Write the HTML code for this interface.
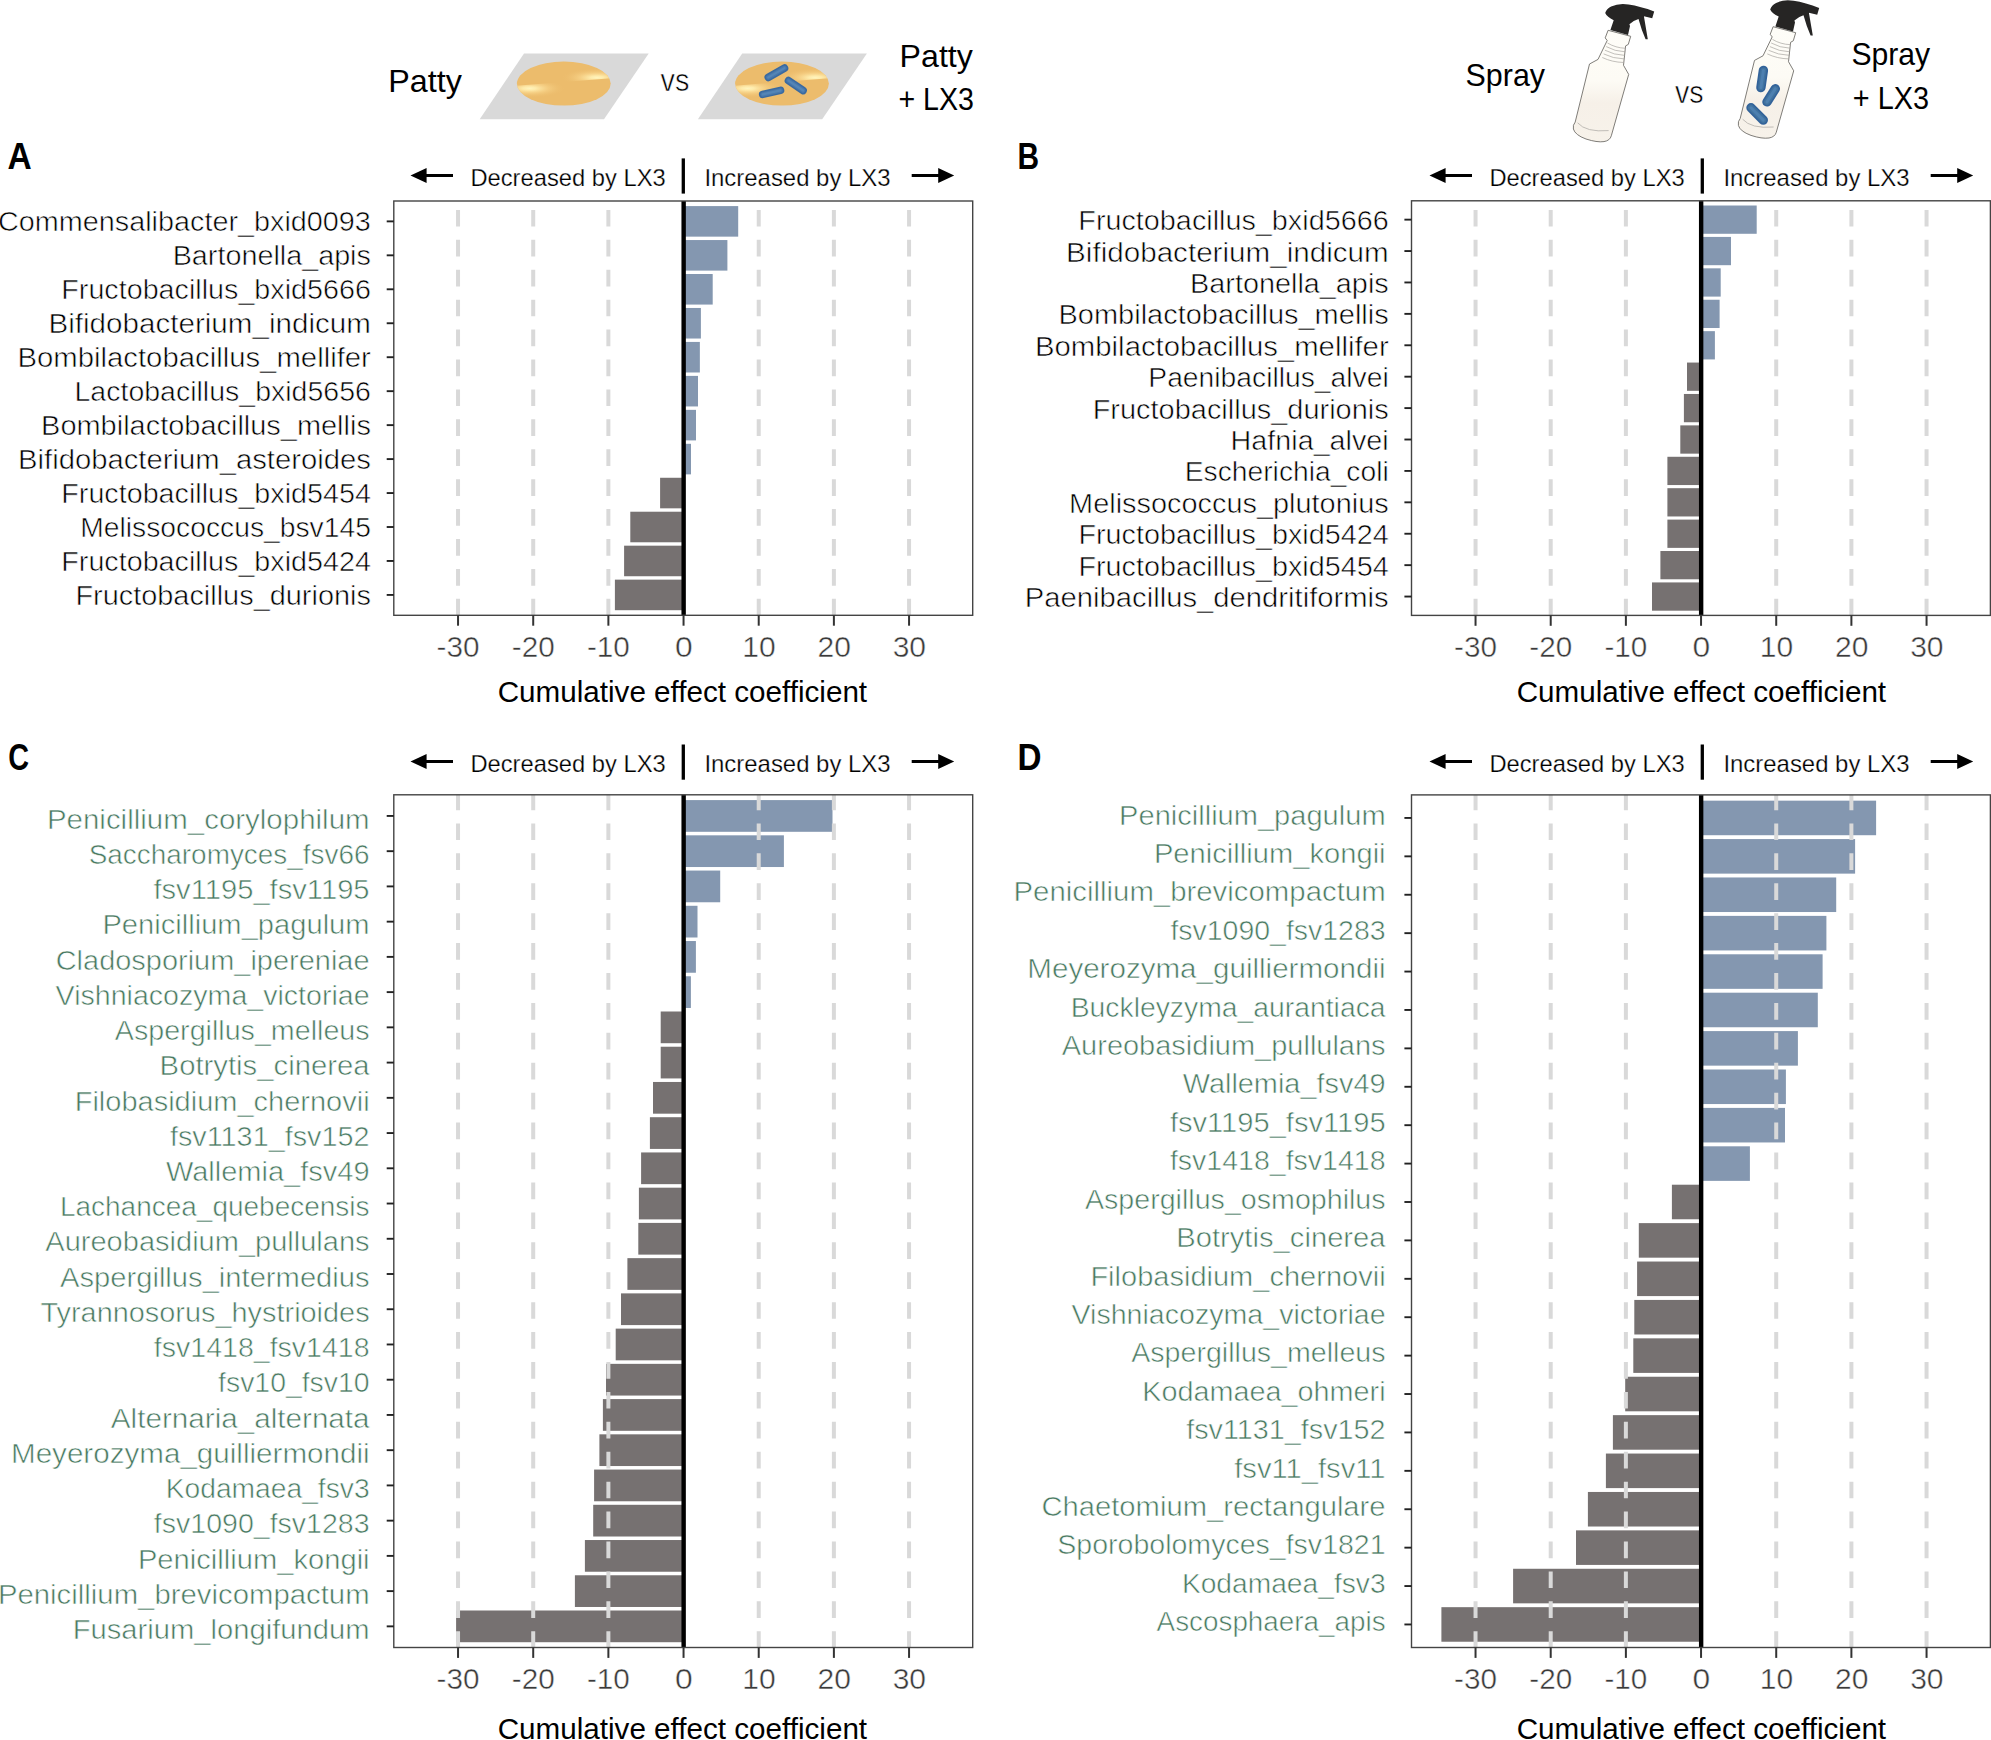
<!DOCTYPE html>
<html><head><meta charset="utf-8"><title>Figure</title>
<style>html,body{margin:0;padding:0;background:#fff;overflow:hidden}svg{display:block}</style></head>
<body>
<svg width="1991" height="1740" viewBox="0 0 1991 1740" font-family="'Liberation Sans', sans-serif">
<defs>
<radialGradient id="hl1" cx="0.5" cy="0.5" r="0.5"><stop offset="0" stop-color="#FFF4BE" stop-opacity="1"/><stop offset="0.18" stop-color="#FFEDAE" stop-opacity="0.95"/><stop offset="0.5" stop-color="#F8D48A" stop-opacity="0.7"/><stop offset="1" stop-color="#ECBC6C" stop-opacity="0"/></radialGradient>
<linearGradient id="bot" x1="0" y1="0" x2="0" y2="1"><stop offset="0" stop-color="#FEFDF8"/><stop offset="0.45" stop-color="#FDFBF5"/><stop offset="0.65" stop-color="#F6F0E8"/><stop offset="1" stop-color="#F7F2EA"/></linearGradient>
<linearGradient id="rod" x1="0" y1="0" x2="1" y2="1"><stop offset="0" stop-color="#5B8CC0"/><stop offset="1" stop-color="#2F5F96"/></linearGradient>
</defs>
<rect width="1991" height="1740" fill="#fff"/>
<g id="panelA">
<rect x="683.55" y="206.09" width="54.65" height="30.56" fill="#8497B0"/>
<rect x="683.55" y="240.05" width="43.85" height="30.56" fill="#8497B0"/>
<rect x="683.55" y="274.01" width="29.15" height="30.56" fill="#8497B0"/>
<rect x="683.55" y="307.97" width="17.35" height="30.56" fill="#8497B0"/>
<rect x="683.55" y="341.93" width="16.30" height="30.56" fill="#8497B0"/>
<rect x="683.55" y="375.89" width="14.45" height="30.56" fill="#8497B0"/>
<rect x="683.55" y="409.85" width="12.45" height="30.56" fill="#8497B0"/>
<rect x="683.55" y="443.81" width="7.45" height="30.56" fill="#8497B0"/>
<rect x="660.10" y="477.77" width="23.45" height="30.56" fill="#767171"/>
<rect x="630.30" y="511.72" width="53.25" height="30.56" fill="#767171"/>
<rect x="624.10" y="545.68" width="59.45" height="30.56" fill="#767171"/>
<rect x="614.90" y="579.64" width="68.65" height="30.56" fill="#767171"/>
<clipPath id="clipA"><rect x="393.8" y="201.0" width="578.90" height="414.30"/></clipPath>
<g clip-path="url(#clipA)" stroke="#D9D9D9" stroke-width="4" stroke-dasharray="16.7 13.22">
<line x1="458.04" x2="458.04" y1="209.90" y2="620.30"/>
<line x1="533.21" x2="533.21" y1="209.90" y2="620.30"/>
<line x1="608.38" x2="608.38" y1="209.90" y2="620.30"/>
<line x1="758.72" x2="758.72" y1="209.90" y2="620.30"/>
<line x1="833.89" x2="833.89" y1="209.90" y2="620.30"/>
<line x1="909.06" x2="909.06" y1="209.90" y2="620.30"/>
</g>
<line x1="683.65" x2="683.65" y1="201.00" y2="615.30" stroke="#000" stroke-width="4.4"/>
<rect x="393.8" y="201.0" width="578.90" height="414.30" fill="none" stroke="#444" stroke-width="1.4"/>
<g stroke="#222" stroke-width="1.9">
<line x1="386.70" x2="393.80" y1="221.38" y2="221.38"/>
<line x1="386.70" x2="393.80" y1="255.33" y2="255.33"/>
<line x1="386.70" x2="393.80" y1="289.29" y2="289.29"/>
<line x1="386.70" x2="393.80" y1="323.25" y2="323.25"/>
<line x1="386.70" x2="393.80" y1="357.21" y2="357.21"/>
<line x1="386.70" x2="393.80" y1="391.17" y2="391.17"/>
<line x1="386.70" x2="393.80" y1="425.13" y2="425.13"/>
<line x1="386.70" x2="393.80" y1="459.09" y2="459.09"/>
<line x1="386.70" x2="393.80" y1="493.05" y2="493.05"/>
<line x1="386.70" x2="393.80" y1="527.01" y2="527.01"/>
<line x1="386.70" x2="393.80" y1="560.97" y2="560.97"/>
<line x1="386.70" x2="393.80" y1="594.92" y2="594.92"/>
</g><g stroke="#333" stroke-width="2">
<line x1="458.04" x2="458.04" y1="615.30" y2="625.70"/>
<line x1="533.21" x2="533.21" y1="615.30" y2="625.70"/>
<line x1="608.38" x2="608.38" y1="615.30" y2="625.70"/>
<line x1="683.55" x2="683.55" y1="615.30" y2="625.70"/>
<line x1="758.72" x2="758.72" y1="615.30" y2="625.70"/>
<line x1="833.89" x2="833.89" y1="615.30" y2="625.70"/>
<line x1="909.06" x2="909.06" y1="615.30" y2="625.70"/>
</g>
<g font-size="28.4" fill="#000" lengthAdjust="spacingAndGlyphs" stroke="#fff" stroke-width="0.6">
<text x="-2.00" y="231.48" textLength="372.90" lengthAdjust="spacingAndGlyphs">Commensalibacter_bxid0093</text>
<text x="172.70" y="265.43" textLength="198.20" lengthAdjust="spacingAndGlyphs">Bartonella_apis</text>
<text x="61.30" y="299.39" textLength="309.60" lengthAdjust="spacingAndGlyphs">Fructobacillus_bxid5666</text>
<text x="48.50" y="333.35" textLength="322.40" lengthAdjust="spacingAndGlyphs">Bifidobacterium_indicum</text>
<text x="17.40" y="367.31" textLength="353.50" lengthAdjust="spacingAndGlyphs">Bombilactobacillus_mellifer</text>
<text x="74.50" y="401.27" textLength="296.40" lengthAdjust="spacingAndGlyphs">Lactobacillus_bxid5656</text>
<text x="41.10" y="435.23" textLength="329.80" lengthAdjust="spacingAndGlyphs">Bombilactobacillus_mellis</text>
<text x="18.00" y="469.19" textLength="352.90" lengthAdjust="spacingAndGlyphs">Bifidobacterium_asteroides</text>
<text x="61.30" y="503.15" textLength="309.60" lengthAdjust="spacingAndGlyphs">Fructobacillus_bxid5454</text>
<text x="80.30" y="537.11" textLength="290.60" lengthAdjust="spacingAndGlyphs">Melissococcus_bsv145</text>
<text x="61.30" y="571.07" textLength="309.60" lengthAdjust="spacingAndGlyphs">Fructobacillus_bxid5424</text>
<text x="75.40" y="605.02" textLength="295.50" lengthAdjust="spacingAndGlyphs">Fructobacillus_durionis</text>
</g>
<g font-size="29.8" fill="#3A3A3A" text-anchor="middle" stroke="#fff" stroke-width="0.45">
<text x="458.04" y="656.60" textLength="42.92" lengthAdjust="spacingAndGlyphs">-30</text>
<text x="533.21" y="656.60" textLength="42.92" lengthAdjust="spacingAndGlyphs">-20</text>
<text x="608.38" y="656.60" textLength="42.92" lengthAdjust="spacingAndGlyphs">-10</text>
<text x="683.85" y="656.60" textLength="17.71" lengthAdjust="spacingAndGlyphs">0</text>
<text x="759.02" y="656.60" textLength="33.42" lengthAdjust="spacingAndGlyphs">10</text>
<text x="834.19" y="656.60" textLength="33.42" lengthAdjust="spacingAndGlyphs">20</text>
<text x="909.36" y="656.60" textLength="33.42" lengthAdjust="spacingAndGlyphs">30</text>
</g>
<text x="497.70" y="702.30" font-size="29" textLength="369.4" lengthAdjust="spacingAndGlyphs">Cumulative effect coefficient</text>
<g transform="translate(0,0)">
<line x1="683.3" x2="683.3" y1="158.4" y2="193.6" stroke="#000" stroke-width="3.3"/>
<path d="M410.5 175.4 L426.6 167.9 L426.6 173.9 L453 173.9 L453 176.9 L426.6 176.9 L426.6 182.9 Z" fill="#000"/>
<path d="M954.2 175.4 L938.2 167.9 L938.2 173.9 L911.7 173.9 L911.7 176.9 L938.2 176.9 L938.2 182.9 Z" fill="#000"/>
<text x="470.4" y="186.0" font-size="24.5" textLength="195.3" lengthAdjust="spacingAndGlyphs" stroke="#fff" stroke-width="0.25">Decreased by LX3</text>
<text x="704.4" y="186.0" font-size="24.5" textLength="186.2" lengthAdjust="spacingAndGlyphs" stroke="#fff" stroke-width="0.25">Increased by LX3</text>
</g>
</g>
<g id="panelB">
<rect x="1701.05" y="205.51" width="55.65" height="28.27" fill="#8497B0"/>
<rect x="1701.05" y="236.92" width="29.95" height="28.27" fill="#8497B0"/>
<rect x="1701.05" y="268.33" width="19.65" height="28.27" fill="#8497B0"/>
<rect x="1701.05" y="299.74" width="18.55" height="28.27" fill="#8497B0"/>
<rect x="1701.05" y="331.15" width="13.85" height="28.27" fill="#8497B0"/>
<rect x="1687.00" y="362.56" width="14.05" height="28.27" fill="#767171"/>
<rect x="1683.90" y="393.97" width="17.15" height="28.27" fill="#767171"/>
<rect x="1680.30" y="425.38" width="20.75" height="28.27" fill="#767171"/>
<rect x="1667.40" y="456.78" width="33.65" height="28.27" fill="#767171"/>
<rect x="1667.40" y="488.19" width="33.65" height="28.27" fill="#767171"/>
<rect x="1667.40" y="519.60" width="33.65" height="28.27" fill="#767171"/>
<rect x="1660.40" y="551.01" width="40.65" height="28.27" fill="#767171"/>
<rect x="1652.00" y="582.42" width="49.05" height="28.27" fill="#767171"/>
<clipPath id="clipB"><rect x="1411.5" y="200.8" width="578.90" height="414.60"/></clipPath>
<g clip-path="url(#clipB)" stroke="#D9D9D9" stroke-width="4" stroke-dasharray="16.7 13.22">
<line x1="1475.54" x2="1475.54" y1="209.90" y2="620.40"/>
<line x1="1550.71" x2="1550.71" y1="209.90" y2="620.40"/>
<line x1="1625.88" x2="1625.88" y1="209.90" y2="620.40"/>
<line x1="1776.22" x2="1776.22" y1="209.90" y2="620.40"/>
<line x1="1851.39" x2="1851.39" y1="209.90" y2="620.40"/>
<line x1="1926.56" x2="1926.56" y1="209.90" y2="620.40"/>
</g>
<line x1="1701.15" x2="1701.15" y1="200.80" y2="615.40" stroke="#000" stroke-width="4.4"/>
<rect x="1411.5" y="200.8" width="578.90" height="414.60" fill="none" stroke="#444" stroke-width="1.4"/>
<g stroke="#222" stroke-width="1.9">
<line x1="1404.40" x2="1411.50" y1="219.65" y2="219.65"/>
<line x1="1404.40" x2="1411.50" y1="251.05" y2="251.05"/>
<line x1="1404.40" x2="1411.50" y1="282.46" y2="282.46"/>
<line x1="1404.40" x2="1411.50" y1="313.87" y2="313.87"/>
<line x1="1404.40" x2="1411.50" y1="345.28" y2="345.28"/>
<line x1="1404.40" x2="1411.50" y1="376.69" y2="376.69"/>
<line x1="1404.40" x2="1411.50" y1="408.10" y2="408.10"/>
<line x1="1404.40" x2="1411.50" y1="439.51" y2="439.51"/>
<line x1="1404.40" x2="1411.50" y1="470.92" y2="470.92"/>
<line x1="1404.40" x2="1411.50" y1="502.33" y2="502.33"/>
<line x1="1404.40" x2="1411.50" y1="533.74" y2="533.74"/>
<line x1="1404.40" x2="1411.50" y1="565.15" y2="565.15"/>
<line x1="1404.40" x2="1411.50" y1="596.55" y2="596.55"/>
</g><g stroke="#333" stroke-width="2">
<line x1="1475.54" x2="1475.54" y1="615.40" y2="625.80"/>
<line x1="1550.71" x2="1550.71" y1="615.40" y2="625.80"/>
<line x1="1625.88" x2="1625.88" y1="615.40" y2="625.80"/>
<line x1="1701.05" x2="1701.05" y1="615.40" y2="625.80"/>
<line x1="1776.22" x2="1776.22" y1="615.40" y2="625.80"/>
<line x1="1851.39" x2="1851.39" y1="615.40" y2="625.80"/>
<line x1="1926.56" x2="1926.56" y1="615.40" y2="625.80"/>
</g>
<g font-size="28.4" fill="#000" lengthAdjust="spacingAndGlyphs" stroke="#fff" stroke-width="0.6">
<text x="1078.30" y="230.15" textLength="310.40" lengthAdjust="spacingAndGlyphs">Fructobacillus_bxid5666</text>
<text x="1066.10" y="261.55" textLength="322.60" lengthAdjust="spacingAndGlyphs">Bifidobacterium_indicum</text>
<text x="1190.10" y="292.96" textLength="198.60" lengthAdjust="spacingAndGlyphs">Bartonella_apis</text>
<text x="1058.50" y="324.37" textLength="330.20" lengthAdjust="spacingAndGlyphs">Bombilactobacillus_mellis</text>
<text x="1035.00" y="355.78" textLength="353.70" lengthAdjust="spacingAndGlyphs">Bombilactobacillus_mellifer</text>
<text x="1148.30" y="387.19" textLength="240.40" lengthAdjust="spacingAndGlyphs">Paenibacillus_alvei</text>
<text x="1092.70" y="418.60" textLength="296.00" lengthAdjust="spacingAndGlyphs">Fructobacillus_durionis</text>
<text x="1230.60" y="450.01" textLength="158.10" lengthAdjust="spacingAndGlyphs">Hafnia_alvei</text>
<text x="1184.80" y="481.42" textLength="203.90" lengthAdjust="spacingAndGlyphs">Escherichia_coli</text>
<text x="1069.10" y="512.83" textLength="319.60" lengthAdjust="spacingAndGlyphs">Melissococcus_plutonius</text>
<text x="1078.40" y="544.24" textLength="310.30" lengthAdjust="spacingAndGlyphs">Fructobacillus_bxid5424</text>
<text x="1078.40" y="575.65" textLength="310.30" lengthAdjust="spacingAndGlyphs">Fructobacillus_bxid5454</text>
<text x="1024.80" y="607.05" textLength="363.90" lengthAdjust="spacingAndGlyphs">Paenibacillus_dendritiformis</text>
</g>
<g font-size="29.8" fill="#3A3A3A" text-anchor="middle" stroke="#fff" stroke-width="0.45">
<text x="1475.54" y="656.70" textLength="42.92" lengthAdjust="spacingAndGlyphs">-30</text>
<text x="1550.71" y="656.70" textLength="42.92" lengthAdjust="spacingAndGlyphs">-20</text>
<text x="1625.88" y="656.70" textLength="42.92" lengthAdjust="spacingAndGlyphs">-10</text>
<text x="1701.35" y="656.70" textLength="17.71" lengthAdjust="spacingAndGlyphs">0</text>
<text x="1776.52" y="656.70" textLength="33.42" lengthAdjust="spacingAndGlyphs">10</text>
<text x="1851.69" y="656.70" textLength="33.42" lengthAdjust="spacingAndGlyphs">20</text>
<text x="1926.86" y="656.70" textLength="33.42" lengthAdjust="spacingAndGlyphs">30</text>
</g>
<text x="1516.70" y="702.40" font-size="29" textLength="369.4" lengthAdjust="spacingAndGlyphs">Cumulative effect coefficient</text>
<g transform="translate(1019,0)">
<line x1="683.3" x2="683.3" y1="158.4" y2="193.6" stroke="#000" stroke-width="3.3"/>
<path d="M410.5 175.4 L426.6 167.9 L426.6 173.9 L453 173.9 L453 176.9 L426.6 176.9 L426.6 182.9 Z" fill="#000"/>
<path d="M954.2 175.4 L938.2 167.9 L938.2 173.9 L911.7 173.9 L911.7 176.9 L938.2 176.9 L938.2 182.9 Z" fill="#000"/>
<text x="470.4" y="186.0" font-size="24.5" textLength="195.3" lengthAdjust="spacingAndGlyphs" stroke="#fff" stroke-width="0.25">Decreased by LX3</text>
<text x="704.4" y="186.0" font-size="24.5" textLength="186.2" lengthAdjust="spacingAndGlyphs" stroke="#fff" stroke-width="0.25">Increased by LX3</text>
</g>
</g>
<g id="panelC">
<rect x="683.55" y="800.09" width="148.95" height="31.71" fill="#8497B0"/>
<rect x="683.55" y="835.32" width="100.35" height="31.71" fill="#8497B0"/>
<rect x="683.55" y="870.56" width="36.65" height="31.71" fill="#8497B0"/>
<rect x="683.55" y="905.79" width="13.95" height="31.71" fill="#8497B0"/>
<rect x="683.55" y="941.03" width="12.35" height="31.71" fill="#8497B0"/>
<rect x="683.55" y="976.26" width="7.35" height="31.71" fill="#8497B0"/>
<rect x="660.70" y="1011.50" width="22.85" height="31.71" fill="#767171"/>
<rect x="660.70" y="1046.73" width="22.85" height="31.71" fill="#767171"/>
<rect x="653.00" y="1081.97" width="30.55" height="31.71" fill="#767171"/>
<rect x="649.90" y="1117.21" width="33.65" height="31.71" fill="#767171"/>
<rect x="641.10" y="1152.44" width="42.45" height="31.71" fill="#767171"/>
<rect x="638.90" y="1187.68" width="44.65" height="31.71" fill="#767171"/>
<rect x="638.30" y="1222.91" width="45.25" height="31.71" fill="#767171"/>
<rect x="627.40" y="1258.15" width="56.15" height="31.71" fill="#767171"/>
<rect x="621.00" y="1293.38" width="62.55" height="31.71" fill="#767171"/>
<rect x="615.70" y="1328.62" width="67.85" height="31.71" fill="#767171"/>
<rect x="606.00" y="1363.85" width="77.55" height="31.71" fill="#767171"/>
<rect x="602.90" y="1399.09" width="80.65" height="31.71" fill="#767171"/>
<rect x="599.40" y="1434.33" width="84.15" height="31.71" fill="#767171"/>
<rect x="594.10" y="1469.56" width="89.45" height="31.71" fill="#767171"/>
<rect x="593.20" y="1504.80" width="90.35" height="31.71" fill="#767171"/>
<rect x="584.90" y="1540.03" width="98.65" height="31.71" fill="#767171"/>
<rect x="574.90" y="1575.27" width="108.65" height="31.71" fill="#767171"/>
<rect x="456.10" y="1610.50" width="227.45" height="31.71" fill="#767171"/>
<clipPath id="clipC"><rect x="393.8" y="794.8" width="578.90" height="852.70"/></clipPath>
<g clip-path="url(#clipC)" stroke="#D9D9D9" stroke-width="4" stroke-dasharray="16.7 13.22">
<line x1="458.04" x2="458.04" y1="793.50" y2="1652.50"/>
<line x1="533.21" x2="533.21" y1="793.50" y2="1652.50"/>
<line x1="608.38" x2="608.38" y1="793.50" y2="1652.50"/>
<line x1="758.72" x2="758.72" y1="793.50" y2="1652.50"/>
<line x1="833.89" x2="833.89" y1="793.50" y2="1652.50"/>
<line x1="909.06" x2="909.06" y1="793.50" y2="1652.50"/>
</g>
<line x1="683.65" x2="683.65" y1="794.80" y2="1647.50" stroke="#000" stroke-width="4.4"/>
<rect x="393.8" y="794.8" width="578.90" height="852.70" fill="none" stroke="#444" stroke-width="1.4"/>
<g stroke="#222" stroke-width="1.9">
<line x1="386.70" x2="393.80" y1="815.94" y2="815.94"/>
<line x1="386.70" x2="393.80" y1="851.18" y2="851.18"/>
<line x1="386.70" x2="393.80" y1="886.41" y2="886.41"/>
<line x1="386.70" x2="393.80" y1="921.65" y2="921.65"/>
<line x1="386.70" x2="393.80" y1="956.88" y2="956.88"/>
<line x1="386.70" x2="393.80" y1="992.12" y2="992.12"/>
<line x1="386.70" x2="393.80" y1="1027.35" y2="1027.35"/>
<line x1="386.70" x2="393.80" y1="1062.59" y2="1062.59"/>
<line x1="386.70" x2="393.80" y1="1097.83" y2="1097.83"/>
<line x1="386.70" x2="393.80" y1="1133.06" y2="1133.06"/>
<line x1="386.70" x2="393.80" y1="1168.30" y2="1168.30"/>
<line x1="386.70" x2="393.80" y1="1203.53" y2="1203.53"/>
<line x1="386.70" x2="393.80" y1="1238.77" y2="1238.77"/>
<line x1="386.70" x2="393.80" y1="1274.00" y2="1274.00"/>
<line x1="386.70" x2="393.80" y1="1309.24" y2="1309.24"/>
<line x1="386.70" x2="393.80" y1="1344.47" y2="1344.47"/>
<line x1="386.70" x2="393.80" y1="1379.71" y2="1379.71"/>
<line x1="386.70" x2="393.80" y1="1414.95" y2="1414.95"/>
<line x1="386.70" x2="393.80" y1="1450.18" y2="1450.18"/>
<line x1="386.70" x2="393.80" y1="1485.42" y2="1485.42"/>
<line x1="386.70" x2="393.80" y1="1520.65" y2="1520.65"/>
<line x1="386.70" x2="393.80" y1="1555.89" y2="1555.89"/>
<line x1="386.70" x2="393.80" y1="1591.12" y2="1591.12"/>
<line x1="386.70" x2="393.80" y1="1626.36" y2="1626.36"/>
</g><g stroke="#333" stroke-width="2">
<line x1="458.04" x2="458.04" y1="1647.50" y2="1657.90"/>
<line x1="533.21" x2="533.21" y1="1647.50" y2="1657.90"/>
<line x1="608.38" x2="608.38" y1="1647.50" y2="1657.90"/>
<line x1="683.55" x2="683.55" y1="1647.50" y2="1657.90"/>
<line x1="758.72" x2="758.72" y1="1647.50" y2="1657.90"/>
<line x1="833.89" x2="833.89" y1="1647.50" y2="1657.90"/>
<line x1="909.06" x2="909.06" y1="1647.50" y2="1657.90"/>
</g>
<g font-size="28.4" fill="#4A7A62" lengthAdjust="spacingAndGlyphs" stroke="#fff" stroke-width="0.6">
<text x="46.90" y="828.64" textLength="322.70" lengthAdjust="spacingAndGlyphs">Penicillium_corylophilum</text>
<text x="88.70" y="863.88" textLength="280.90" lengthAdjust="spacingAndGlyphs">Saccharomyces_fsv66</text>
<text x="153.40" y="899.11" textLength="216.20" lengthAdjust="spacingAndGlyphs">fsv1195_fsv1195</text>
<text x="102.40" y="934.35" textLength="267.20" lengthAdjust="spacingAndGlyphs">Penicillium_pagulum</text>
<text x="55.70" y="969.58" textLength="313.90" lengthAdjust="spacingAndGlyphs">Cladosporium_ipereniae</text>
<text x="55.60" y="1004.82" textLength="314.00" lengthAdjust="spacingAndGlyphs">Vishniacozyma_victoriae</text>
<text x="114.80" y="1040.05" textLength="254.80" lengthAdjust="spacingAndGlyphs">Aspergillus_melleus</text>
<text x="159.60" y="1075.29" textLength="210.00" lengthAdjust="spacingAndGlyphs">Botrytis_cinerea</text>
<text x="74.70" y="1110.53" textLength="294.90" lengthAdjust="spacingAndGlyphs">Filobasidium_chernovii</text>
<text x="169.90" y="1145.76" textLength="199.70" lengthAdjust="spacingAndGlyphs">fsv1131_fsv152</text>
<text x="165.90" y="1181.00" textLength="203.70" lengthAdjust="spacingAndGlyphs">Wallemia_fsv49</text>
<text x="59.90" y="1216.23" textLength="309.70" lengthAdjust="spacingAndGlyphs">Lachancea_quebecensis</text>
<text x="45.30" y="1251.47" textLength="324.30" lengthAdjust="spacingAndGlyphs">Aureobasidium_pullulans</text>
<text x="60.00" y="1286.70" textLength="309.60" lengthAdjust="spacingAndGlyphs">Aspergillus_intermedius</text>
<text x="40.50" y="1321.94" textLength="329.10" lengthAdjust="spacingAndGlyphs">Tyrannosorus_hystrioides</text>
<text x="153.80" y="1357.17" textLength="215.80" lengthAdjust="spacingAndGlyphs">fsv1418_fsv1418</text>
<text x="218.10" y="1392.41" textLength="151.50" lengthAdjust="spacingAndGlyphs">fsv10_fsv10</text>
<text x="110.80" y="1427.65" textLength="258.80" lengthAdjust="spacingAndGlyphs">Alternaria_alternata</text>
<text x="11.00" y="1462.88" textLength="358.60" lengthAdjust="spacingAndGlyphs">Meyerozyma_guilliermondii</text>
<text x="165.70" y="1498.12" textLength="203.90" lengthAdjust="spacingAndGlyphs">Kodamaea_fsv3</text>
<text x="153.80" y="1533.35" textLength="215.80" lengthAdjust="spacingAndGlyphs">fsv1090_fsv1283</text>
<text x="137.90" y="1568.59" textLength="231.70" lengthAdjust="spacingAndGlyphs">Penicillium_kongii</text>
<text x="-2.10" y="1603.82" textLength="371.70" lengthAdjust="spacingAndGlyphs">Penicillium_brevicompactum</text>
<text x="72.70" y="1639.06" textLength="296.90" lengthAdjust="spacingAndGlyphs">Fusarium_longifundum</text>
</g>
<g font-size="29.8" fill="#3A3A3A" text-anchor="middle" stroke="#fff" stroke-width="0.45">
<text x="458.04" y="1688.80" textLength="42.92" lengthAdjust="spacingAndGlyphs">-30</text>
<text x="533.21" y="1688.80" textLength="42.92" lengthAdjust="spacingAndGlyphs">-20</text>
<text x="608.38" y="1688.80" textLength="42.92" lengthAdjust="spacingAndGlyphs">-10</text>
<text x="683.85" y="1688.80" textLength="17.71" lengthAdjust="spacingAndGlyphs">0</text>
<text x="759.02" y="1688.80" textLength="33.42" lengthAdjust="spacingAndGlyphs">10</text>
<text x="834.19" y="1688.80" textLength="33.42" lengthAdjust="spacingAndGlyphs">20</text>
<text x="909.36" y="1688.80" textLength="33.42" lengthAdjust="spacingAndGlyphs">30</text>
</g>
<text x="497.70" y="1738.80" font-size="29" textLength="369.4" lengthAdjust="spacingAndGlyphs">Cumulative effect coefficient</text>
<g transform="translate(0,586.1)">
<line x1="683.3" x2="683.3" y1="158.4" y2="193.6" stroke="#000" stroke-width="3.3"/>
<path d="M410.5 175.4 L426.6 167.9 L426.6 173.9 L453 173.9 L453 176.9 L426.6 176.9 L426.6 182.9 Z" fill="#000"/>
<path d="M954.2 175.4 L938.2 167.9 L938.2 173.9 L911.7 173.9 L911.7 176.9 L938.2 176.9 L938.2 182.9 Z" fill="#000"/>
<text x="470.4" y="186.0" font-size="24.5" textLength="195.3" lengthAdjust="spacingAndGlyphs" stroke="#fff" stroke-width="0.25">Decreased by LX3</text>
<text x="704.4" y="186.0" font-size="24.5" textLength="186.2" lengthAdjust="spacingAndGlyphs" stroke="#fff" stroke-width="0.25">Increased by LX3</text>
</g>
</g>
<g id="panelD">
<rect x="1701.05" y="800.66" width="175.05" height="34.56" fill="#8497B0"/>
<rect x="1701.05" y="839.07" width="154.05" height="34.56" fill="#8497B0"/>
<rect x="1701.05" y="877.47" width="135.15" height="34.56" fill="#8497B0"/>
<rect x="1701.05" y="915.88" width="125.35" height="34.56" fill="#8497B0"/>
<rect x="1701.05" y="954.28" width="121.55" height="34.56" fill="#8497B0"/>
<rect x="1701.05" y="992.69" width="116.75" height="34.56" fill="#8497B0"/>
<rect x="1701.05" y="1031.09" width="96.85" height="34.56" fill="#8497B0"/>
<rect x="1701.05" y="1069.50" width="84.85" height="34.56" fill="#8497B0"/>
<rect x="1701.05" y="1107.90" width="83.95" height="34.56" fill="#8497B0"/>
<rect x="1701.05" y="1146.31" width="48.85" height="34.56" fill="#8497B0"/>
<rect x="1671.90" y="1184.71" width="29.15" height="34.56" fill="#767171"/>
<rect x="1638.80" y="1223.12" width="62.25" height="34.56" fill="#767171"/>
<rect x="1637.10" y="1261.53" width="63.95" height="34.56" fill="#767171"/>
<rect x="1634.30" y="1299.93" width="66.75" height="34.56" fill="#767171"/>
<rect x="1633.30" y="1338.34" width="67.75" height="34.56" fill="#767171"/>
<rect x="1625.20" y="1376.74" width="75.85" height="34.56" fill="#767171"/>
<rect x="1612.90" y="1415.15" width="88.15" height="34.56" fill="#767171"/>
<rect x="1605.90" y="1453.55" width="95.15" height="34.56" fill="#767171"/>
<rect x="1587.90" y="1491.96" width="113.15" height="34.56" fill="#767171"/>
<rect x="1576.00" y="1530.36" width="125.05" height="34.56" fill="#767171"/>
<rect x="1513.10" y="1568.77" width="187.95" height="34.56" fill="#767171"/>
<rect x="1441.40" y="1607.17" width="259.65" height="34.56" fill="#767171"/>
<clipPath id="clipD"><rect x="1411.5" y="794.9" width="578.90" height="852.60"/></clipPath>
<g clip-path="url(#clipD)" stroke="#D9D9D9" stroke-width="4" stroke-dasharray="16.7 13.22">
<line x1="1475.54" x2="1475.54" y1="793.50" y2="1652.50"/>
<line x1="1550.71" x2="1550.71" y1="793.50" y2="1652.50"/>
<line x1="1625.88" x2="1625.88" y1="793.50" y2="1652.50"/>
<line x1="1776.22" x2="1776.22" y1="793.50" y2="1652.50"/>
<line x1="1851.39" x2="1851.39" y1="793.50" y2="1652.50"/>
<line x1="1926.56" x2="1926.56" y1="793.50" y2="1652.50"/>
</g>
<line x1="1701.15" x2="1701.15" y1="794.90" y2="1647.50" stroke="#000" stroke-width="4.4"/>
<rect x="1411.5" y="794.9" width="578.90" height="852.60" fill="none" stroke="#444" stroke-width="1.4"/>
<g stroke="#222" stroke-width="1.9">
<line x1="1404.40" x2="1411.50" y1="817.94" y2="817.94"/>
<line x1="1404.40" x2="1411.50" y1="856.35" y2="856.35"/>
<line x1="1404.40" x2="1411.50" y1="894.75" y2="894.75"/>
<line x1="1404.40" x2="1411.50" y1="933.16" y2="933.16"/>
<line x1="1404.40" x2="1411.50" y1="971.56" y2="971.56"/>
<line x1="1404.40" x2="1411.50" y1="1009.97" y2="1009.97"/>
<line x1="1404.40" x2="1411.50" y1="1048.38" y2="1048.38"/>
<line x1="1404.40" x2="1411.50" y1="1086.78" y2="1086.78"/>
<line x1="1404.40" x2="1411.50" y1="1125.19" y2="1125.19"/>
<line x1="1404.40" x2="1411.50" y1="1163.59" y2="1163.59"/>
<line x1="1404.40" x2="1411.50" y1="1202.00" y2="1202.00"/>
<line x1="1404.40" x2="1411.50" y1="1240.40" y2="1240.40"/>
<line x1="1404.40" x2="1411.50" y1="1278.81" y2="1278.81"/>
<line x1="1404.40" x2="1411.50" y1="1317.21" y2="1317.21"/>
<line x1="1404.40" x2="1411.50" y1="1355.62" y2="1355.62"/>
<line x1="1404.40" x2="1411.50" y1="1394.02" y2="1394.02"/>
<line x1="1404.40" x2="1411.50" y1="1432.43" y2="1432.43"/>
<line x1="1404.40" x2="1411.50" y1="1470.84" y2="1470.84"/>
<line x1="1404.40" x2="1411.50" y1="1509.24" y2="1509.24"/>
<line x1="1404.40" x2="1411.50" y1="1547.65" y2="1547.65"/>
<line x1="1404.40" x2="1411.50" y1="1586.05" y2="1586.05"/>
<line x1="1404.40" x2="1411.50" y1="1624.46" y2="1624.46"/>
</g><g stroke="#333" stroke-width="2">
<line x1="1475.54" x2="1475.54" y1="1647.50" y2="1657.90"/>
<line x1="1550.71" x2="1550.71" y1="1647.50" y2="1657.90"/>
<line x1="1625.88" x2="1625.88" y1="1647.50" y2="1657.90"/>
<line x1="1701.05" x2="1701.05" y1="1647.50" y2="1657.90"/>
<line x1="1776.22" x2="1776.22" y1="1647.50" y2="1657.90"/>
<line x1="1851.39" x2="1851.39" y1="1647.50" y2="1657.90"/>
<line x1="1926.56" x2="1926.56" y1="1647.50" y2="1657.90"/>
</g>
<g font-size="28.4" fill="#4A7A62" lengthAdjust="spacingAndGlyphs" stroke="#fff" stroke-width="0.6">
<text x="1119.10" y="824.64" textLength="266.50" lengthAdjust="spacingAndGlyphs">Penicillium_pagulum</text>
<text x="1153.90" y="863.05" textLength="231.70" lengthAdjust="spacingAndGlyphs">Penicillium_kongii</text>
<text x="1013.50" y="901.45" textLength="372.10" lengthAdjust="spacingAndGlyphs">Penicillium_brevicompactum</text>
<text x="1170.40" y="939.86" textLength="215.20" lengthAdjust="spacingAndGlyphs">fsv1090_fsv1283</text>
<text x="1027.30" y="978.26" textLength="358.30" lengthAdjust="spacingAndGlyphs">Meyerozyma_guilliermondii</text>
<text x="1070.70" y="1016.67" textLength="314.90" lengthAdjust="spacingAndGlyphs">Buckleyzyma_aurantiaca</text>
<text x="1061.80" y="1055.08" textLength="323.80" lengthAdjust="spacingAndGlyphs">Aureobasidium_pullulans</text>
<text x="1182.70" y="1093.48" textLength="202.90" lengthAdjust="spacingAndGlyphs">Wallemia_fsv49</text>
<text x="1169.90" y="1131.89" textLength="215.70" lengthAdjust="spacingAndGlyphs">fsv1195_fsv1195</text>
<text x="1169.90" y="1170.29" textLength="215.70" lengthAdjust="spacingAndGlyphs">fsv1418_fsv1418</text>
<text x="1084.90" y="1208.70" textLength="300.70" lengthAdjust="spacingAndGlyphs">Aspergillus_osmophilus</text>
<text x="1176.20" y="1247.10" textLength="209.40" lengthAdjust="spacingAndGlyphs">Botrytis_cinerea</text>
<text x="1090.40" y="1285.51" textLength="295.20" lengthAdjust="spacingAndGlyphs">Filobasidium_chernovii</text>
<text x="1071.50" y="1323.91" textLength="314.10" lengthAdjust="spacingAndGlyphs">Vishniacozyma_victoriae</text>
<text x="1131.20" y="1362.32" textLength="254.40" lengthAdjust="spacingAndGlyphs">Aspergillus_melleus</text>
<text x="1142.20" y="1400.72" textLength="243.40" lengthAdjust="spacingAndGlyphs">Kodamaea_ohmeri</text>
<text x="1186.20" y="1439.13" textLength="199.40" lengthAdjust="spacingAndGlyphs">fsv1131_fsv152</text>
<text x="1234.20" y="1477.54" textLength="151.40" lengthAdjust="spacingAndGlyphs">fsv11_fsv11</text>
<text x="1041.40" y="1515.94" textLength="344.20" lengthAdjust="spacingAndGlyphs">Chaetomium_rectangulare</text>
<text x="1057.30" y="1554.35" textLength="328.30" lengthAdjust="spacingAndGlyphs">Sporobolomyces_fsv1821</text>
<text x="1181.90" y="1592.75" textLength="203.70" lengthAdjust="spacingAndGlyphs">Kodamaea_fsv3</text>
<text x="1156.60" y="1631.16" textLength="229.00" lengthAdjust="spacingAndGlyphs">Ascosphaera_apis</text>
</g>
<g font-size="29.8" fill="#3A3A3A" text-anchor="middle" stroke="#fff" stroke-width="0.45">
<text x="1475.54" y="1688.80" textLength="42.92" lengthAdjust="spacingAndGlyphs">-30</text>
<text x="1550.71" y="1688.80" textLength="42.92" lengthAdjust="spacingAndGlyphs">-20</text>
<text x="1625.88" y="1688.80" textLength="42.92" lengthAdjust="spacingAndGlyphs">-10</text>
<text x="1701.35" y="1688.80" textLength="17.71" lengthAdjust="spacingAndGlyphs">0</text>
<text x="1776.52" y="1688.80" textLength="33.42" lengthAdjust="spacingAndGlyphs">10</text>
<text x="1851.69" y="1688.80" textLength="33.42" lengthAdjust="spacingAndGlyphs">20</text>
<text x="1926.86" y="1688.80" textLength="33.42" lengthAdjust="spacingAndGlyphs">30</text>
</g>
<text x="1516.70" y="1738.80" font-size="29" textLength="369.4" lengthAdjust="spacingAndGlyphs">Cumulative effect coefficient</text>
<g transform="translate(1019,586.1)">
<line x1="683.3" x2="683.3" y1="158.4" y2="193.6" stroke="#000" stroke-width="3.3"/>
<path d="M410.5 175.4 L426.6 167.9 L426.6 173.9 L453 173.9 L453 176.9 L426.6 176.9 L426.6 182.9 Z" fill="#000"/>
<path d="M954.2 175.4 L938.2 167.9 L938.2 173.9 L911.7 173.9 L911.7 176.9 L938.2 176.9 L938.2 182.9 Z" fill="#000"/>
<text x="470.4" y="186.0" font-size="24.5" textLength="195.3" lengthAdjust="spacingAndGlyphs" stroke="#fff" stroke-width="0.25">Decreased by LX3</text>
<text x="704.4" y="186.0" font-size="24.5" textLength="186.2" lengthAdjust="spacingAndGlyphs" stroke="#fff" stroke-width="0.25">Increased by LX3</text>
</g>
</g>
<text x="7.6" y="168.7" font-size="36.2" font-weight="bold" textLength="24.2" lengthAdjust="spacingAndGlyphs">A</text>
<text x="1017.6" y="168.8" font-size="36.2" font-weight="bold" textLength="21.6" lengthAdjust="spacingAndGlyphs">B</text>
<text x="8.2" y="770.3" font-size="36.2" font-weight="bold" textLength="20.8" lengthAdjust="spacingAndGlyphs">C</text>
<text x="1017.6" y="770.2" font-size="36.2" font-weight="bold" textLength="24.0" lengthAdjust="spacingAndGlyphs">D</text>
<g transform="translate(0,0)">
<path d="M524 53.4 L648.7 53.4 L604 119.3 L479.7 119.3 Z" fill="#D9D9D9"/>
<ellipse cx="563.8" cy="83.6" rx="46.9" ry="22" fill="#ECBC6C"/>
<clipPath id="pc0"><ellipse cx="563.8" cy="83.6" rx="46.9" ry="22"/></clipPath>
<clipPath id="pa0"><path d="M500 87.06 L630 76.6 L630 40 L500 40 Z"/></clipPath>
<clipPath id="pb0"><path d="M500 87.06 L630 76.6 L630 130 L500 130 Z"/></clipPath>
<g clip-path="url(#pc0)">
<g clip-path="url(#pa0)"><ellipse cx="597" cy="77.6" rx="36" ry="9.5" fill="url(#hl1)"/></g>
<g clip-path="url(#pb0)"><ellipse cx="529.5" cy="88.4" rx="36" ry="9.5" fill="url(#hl1)"/></g>
</g>
</g>
<g transform="translate(218.2,0)">
<path d="M524 53.4 L648.7 53.4 L604 119.3 L479.7 119.3 Z" fill="#D9D9D9"/>
<ellipse cx="563.8" cy="83.6" rx="46.9" ry="22" fill="#ECBC6C"/>
<clipPath id="pc218"><ellipse cx="563.8" cy="83.6" rx="46.9" ry="22"/></clipPath>
<clipPath id="pa218"><path d="M500 87.06 L630 76.6 L630 40 L500 40 Z"/></clipPath>
<clipPath id="pb218"><path d="M500 87.06 L630 76.6 L630 130 L500 130 Z"/></clipPath>
<g clip-path="url(#pc218)">
<g clip-path="url(#pa218)"><ellipse cx="597" cy="77.6" rx="36" ry="9.5" fill="url(#hl1)"/></g>
<g clip-path="url(#pb218)"><ellipse cx="529.5" cy="88.4" rx="36" ry="9.5" fill="url(#hl1)"/></g>
</g>
<g stroke="#3A6AA0" stroke-width="7.6" stroke-linecap="round">
<line x1="550.1" y1="77.4" x2="566.3" y2="68.1"/>
<line x1="570.3" y1="80.6" x2="584.9" y2="90.5"/>
<line x1="544.5" y1="94.4" x2="562.3" y2="90.4"/>
</g>
<g stroke="#4878AC" stroke-width="4.6" stroke-linecap="round">
<line x1="550.1" y1="77.4" x2="566.3" y2="68.1"/>
<line x1="570.3" y1="80.6" x2="584.9" y2="90.5"/>
<line x1="544.5" y1="94.4" x2="562.3" y2="90.4"/>
</g>
<g stroke="#5485B6" stroke-width="2.2" stroke-linecap="round">
<line x1="550.1" y1="77.4" x2="566.3" y2="68.1"/>
<line x1="570.3" y1="80.6" x2="584.9" y2="90.5"/>
<line x1="544.5" y1="94.4" x2="562.3" y2="90.4"/>
</g>
</g>
<text x="388.20" y="91.70" font-size="31.5" textLength="73.60" lengthAdjust="spacingAndGlyphs">Patty</text>
<text x="660.50" y="90.70" font-size="31" textLength="28.80" lengthAdjust="spacingAndGlyphs" stroke="#fff" stroke-width="0.6">vs</text>
<text x="899.60" y="67.30" font-size="31.5" textLength="73.20" lengthAdjust="spacingAndGlyphs">Patty</text>
<text x="898.40" y="109.90" font-size="31.5" textLength="75.50" lengthAdjust="spacingAndGlyphs">+ LX3</text>
<g transform="translate(0,0)">
<path d="M1608.1 30.3 L1630.7 36.3 L1628.3 44.4 L1625.6 45.9 L1623.5 65.3 L1628.7 74.4 L1611.3 135.8 Q1610 140.6 1604 141.6 Q1597 142.6 1586 139 Q1575 135 1573.4 129 Q1572.6 125 1575.2 122.1 L1589.5 64 L1598 59.4 L1607.2 40.5 L1605.2 37.9 Z" fill="url(#bot)" stroke="#716E6A" stroke-width="0.9" stroke-linejoin="round"/>
<g fill="none" stroke="#A8A5A0" stroke-width="0.7">
<path d="M1607.5 43.0 Q1615.5 47.9 1625.6 48.3"/>
<path d="M1606.2 46.6 Q1614.7 51.4 1625.1 51.8"/>
<path d="M1604.9 50.2 Q1613.8 55.0 1624.7 55.4"/>
<path d="M1603.6 53.9 Q1612.9 58.6 1624.2 58.9"/>
<path d="M1602.3 57.5 Q1612.0 62.2 1623.8 62.5"/>
<path d="M1577.6 122.8 Q1586 132.5 1608.6 130.6"/>
</g>
<path d="M1610.4 30 L1613.7 20.2 Q1607 17 1605.2 13.1 Q1606.5 8.5 1611.1 6.5 Q1616.5 4 1622.8 3.9 Q1634 4.5 1647.6 9.1 L1654.2 11.5 L1652.2 18.3 L1643.9 16.3 L1647.8 39.2 L1645.6 39.2 Q1641.5 30 1638.5 18.9 Q1633 20.5 1629.4 24.2 L1630 26.1 L1628 35 Z" fill="#262524"/>
</g>
<g transform="translate(165,-3.6)">
<path d="M1608.1 30.3 L1630.7 36.3 L1628.3 44.4 L1625.6 45.9 L1623.5 65.3 L1628.7 74.4 L1611.3 135.8 Q1610 140.6 1604 141.6 Q1597 142.6 1586 139 Q1575 135 1573.4 129 Q1572.6 125 1575.2 122.1 L1589.5 64 L1598 59.4 L1607.2 40.5 L1605.2 37.9 Z" fill="url(#bot)" stroke="#716E6A" stroke-width="0.9" stroke-linejoin="round"/>
<g fill="none" stroke="#A8A5A0" stroke-width="0.7">
<path d="M1607.5 43.0 Q1615.5 47.9 1625.6 48.3"/>
<path d="M1606.2 46.6 Q1614.7 51.4 1625.1 51.8"/>
<path d="M1604.9 50.2 Q1613.8 55.0 1624.7 55.4"/>
<path d="M1603.6 53.9 Q1612.9 58.6 1624.2 58.9"/>
<path d="M1602.3 57.5 Q1612.0 62.2 1623.8 62.5"/>
<path d="M1577.6 122.8 Q1586 132.5 1608.6 130.6"/>
</g>
<path d="M1610.4 30 L1613.7 20.2 Q1607 17 1605.2 13.1 Q1606.5 8.5 1611.1 6.5 Q1616.5 4 1622.8 3.9 Q1634 4.5 1647.6 9.1 L1654.2 11.5 L1652.2 18.3 L1643.9 16.3 L1647.8 39.2 L1645.6 39.2 Q1641.5 30 1638.5 18.9 Q1633 20.5 1629.4 24.2 L1630 26.1 L1628 35 Z" fill="#262524"/>
</g>
<g stroke="#33639A" stroke-width="9.4" stroke-linecap="round">
<line x1="1763.4" y1="70.4" x2="1760.9" y2="87.6"/>
<line x1="1775.3" y1="88.8" x2="1767.0" y2="101.9"/>
<line x1="1751.0" y1="107.8" x2="1763.3" y2="120.1"/>
</g>
<g stroke="#42739F" stroke-width="6.0" stroke-linecap="round">
<line x1="1763.4" y1="70.4" x2="1760.9" y2="87.6"/>
<line x1="1775.3" y1="88.8" x2="1767.0" y2="101.9"/>
<line x1="1751.0" y1="107.8" x2="1763.3" y2="120.1"/>
</g>
<g stroke="#4E80B0" stroke-width="3.0" stroke-linecap="round">
<line x1="1763.4" y1="70.4" x2="1760.9" y2="87.6"/>
<line x1="1775.3" y1="88.8" x2="1767.0" y2="101.9"/>
<line x1="1751.0" y1="107.8" x2="1763.3" y2="120.1"/>
</g>
<text x="1465.60" y="86.30" font-size="31.8" textLength="79.40" lengthAdjust="spacingAndGlyphs">Spray</text>
<text x="1675.00" y="103.30" font-size="31" textLength="28.60" lengthAdjust="spacingAndGlyphs" stroke="#fff" stroke-width="0.6">vs</text>
<text x="1851.40" y="65.40" font-size="31.8" textLength="78.80" lengthAdjust="spacingAndGlyphs">Spray</text>
<text x="1852.80" y="108.50" font-size="31.8" textLength="76.20" lengthAdjust="spacingAndGlyphs">+ LX3</text>
</svg>
</body></html>
